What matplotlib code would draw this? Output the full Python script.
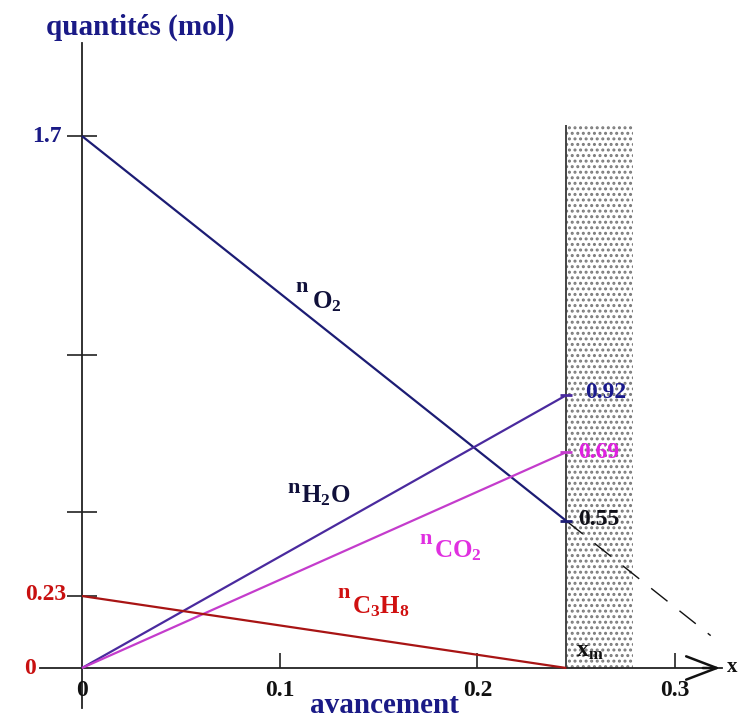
import numpy as np
import matplotlib
matplotlib.use('Agg')
import matplotlib.pyplot as plt

# ---------------- data ----------------
species = ['O2', 'H2O', 'CO2', 'C3H8']
x_max = 0.245                       # position of x_m on the avancement axis
n_start = [1.7, 0.0, 0.0, 0.23]     # quantities at x = 0
n_end = [0.47, 0.872, 0.69, 0.0]    # quantities at x = x_m
end_texts = {'O2': '0.55', 'H2O': '0.92', 'CO2': '0.69'}
x_ticks = [0.1, 0.2, 0.3]
x_ticklabels = ['0.1', '0.2', '0.3']
y_ticks = [0.23, 0.5, 1.0, 1.7]
dash_x_end = 0.318

# ---------------- styling ----------------
line_colors = {'O2': '#1c1c74', 'H2O': '#4a2a9e', 'CO2': '#c43ccc', 'C3H8': '#a81414'}
label_colors = {'O2': '#10103a', 'H2O': '#10103a', 'CO2': '#e030e0', 'C3H8': '#d01010'}
end_colors = {'O2': '#101018', 'H2O': '#1a1a8c', 'CO2': '#e020e0'}
navy = '#1a1a86'
red = '#c81010'

plt.rcParams['font.family'] = ['Liberation Serif', 'DejaVu Serif']
plt.rcParams['font.weight'] = 'bold'
plt.rcParams['mathtext.fontset'] = 'custom'
plt.rcParams['mathtext.rm'] = 'Liberation Serif:bold'
plt.rcParams['mathtext.bf'] = 'Liberation Serif:bold'
plt.rcParams['mathtext.it'] = 'Liberation Serif:bold'
plt.rcParams['hatch.linewidth'] = 1.4

W, H, DPI = 738, 718, 100
X0, Y0 = 82, 668          # pixel of the origin
XS, YS = 1977.0, 312.9    # pixels per unit


def dx(px):
    return (px - X0) / XS


def dy(py):
    return (Y0 - py) / YS


fig = plt.figure(figsize=(W / DPI, H / DPI), dpi=DPI)
ax = fig.add_axes([0, 0, 1, 1])
ax.set_xlim(dx(0), dx(W))
ax.set_ylim(dy(H), dy(0))
ax.patch.set_visible(False)

# axes as spines through the origin
for s in ['top', 'right']:
    ax.spines[s].set_visible(False)
ax.spines['left'].set_position(('data', 0))
ax.spines['bottom'].set_position(('data', 0))
ax.spines['left'].set_bounds(dy(708), dy(43))
ax.spines['bottom'].set_bounds(dx(40), dx(722))
for s in ['left', 'bottom']:
    ax.spines[s].set_linewidth(1.3)
    ax.spines[s].set_color('#222222')

ax.set_xticks(x_ticks)
ax.set_xticklabels([])
ax.tick_params(axis='x', direction='in', length=10.5, width=1.2, color='#222222')
ax.set_yticks(y_ticks)
ax.set_yticklabels([])
ax.tick_params(axis='y', direction='inout', length=21, width=1.2, color='#222222')
ax.yaxis.get_major_ticks()[3].tick1line.set_color(navy)

# x axis arrow head
ax.annotate('', xy=(dx(723), 0), xytext=(dx(700), 0),
            arrowprops=dict(arrowstyle='->,head_length=1.1,head_width=0.42',
                            mutation_scale=20, lw=1.8, color='#111111'),
            annotation_clip=False)
ax.text(dx(727), dy(672), 'x', fontsize=15, color='#111111', ha='left', va='baseline')

# shaded zone beyond x_m
zone_top = dy(125)
ax.fill_betweenx([0, zone_top], x_max, x_max + dx(634) - dx(567),
                 facecolor='none', edgecolor='#7a7a7a', hatch='...', linewidth=0, zorder=1)
ax.vlines(x_max, 0, zone_top, color='#444444', lw=1.4, zorder=2)

# lines of the quantities
for sp, a, b in zip(species, n_start, n_end):
    ax.plot([0, x_max], [a, b], color=line_colors[sp], lw=1.6, zorder=3,
            solid_capstyle='butt')
    if sp in end_texts:
        ax.plot([x_max], [b], marker='_', ms=9, mew=2, color=line_colors[sp], zorder=4)

# dashed continuation of the O2 line
i = species.index('O2')
slope = (n_end[i] - n_start[i]) / x_max
xd = np.array([x_max, dash_x_end])
ax.plot(xd, n_start[i] + slope * xd, color='#111111', lw=1.0, dashes=(15, 11), zorder=3)

# end values
end_pos = {'O2': (578, 525), 'H2O': (585, 398), 'CO2': (578, 458)}
for sp, txt in end_texts.items():
    px, py = end_pos[sp]
    ax.text(dx(px), dy(py), txt, fontsize=17, color=end_colors[sp],
            ha='left', va='baseline', zorder=5)

# line labels: small "n" and formula
formulas = {'O2': r'$\mathbf{O}_{\mathbf{2}}$', 'H2O': r'$\mathbf{H}_{\mathbf{2}}\mathbf{O}$',
            'CO2': r'$\mathbf{CO}_{\mathbf{2}}$', 'C3H8': r'$\mathbf{C}_{\mathbf{3}}\mathbf{H}_{\mathbf{8}}$'}
n_pos = {'O2': (295, 292), 'H2O': (287, 493), 'CO2': (419, 544), 'C3H8': (337, 598)}
f_pos = {'O2': (312, 308), 'H2O': (301, 502), 'CO2': (434, 557), 'C3H8': (352, 613)}
for sp in species:
    ax.text(dx(n_pos[sp][0]), dy(n_pos[sp][1]), 'n', fontsize=16, color=label_colors[sp],
            ha='left', va='baseline', zorder=5)
    ax.text(dx(f_pos[sp][0]), dy(f_pos[sp][1]), formulas[sp], fontsize=18,
            color=label_colors[sp], ha='left', va='baseline', zorder=5)

ax.text(dx(576), dy(657), r'$\mathbf{x}_{\mathbf{m}}$', fontsize=17, color='#111111',
        ha='left', va='baseline', zorder=5)

# tick labels
for t, lab in zip([0] + x_ticks, ['0'] + x_ticklabels):
    ax.text(t, dy(696), lab, fontsize=17, color='#111111', ha='center', va='baseline')
ax.text(dx(62), dy(142), '1.7', fontsize=17, color=navy, ha='right', va='baseline')
ax.text(dx(66), dy(600), '0.23', fontsize=17, color=red, ha='right', va='baseline')
ax.text(dx(36), dy(674), '0', fontsize=17, color=red, ha='right', va='baseline')

# axis titles
ax.text(dx(46), dy(35), 'quantités (mol)', fontsize=21, color=navy, ha='left', va='baseline')
ax.text(dx(310), dy(713), 'avancement', fontsize=21, color=navy, ha='left', va='baseline')

fig.savefig('out.png', dpi=DPI)
